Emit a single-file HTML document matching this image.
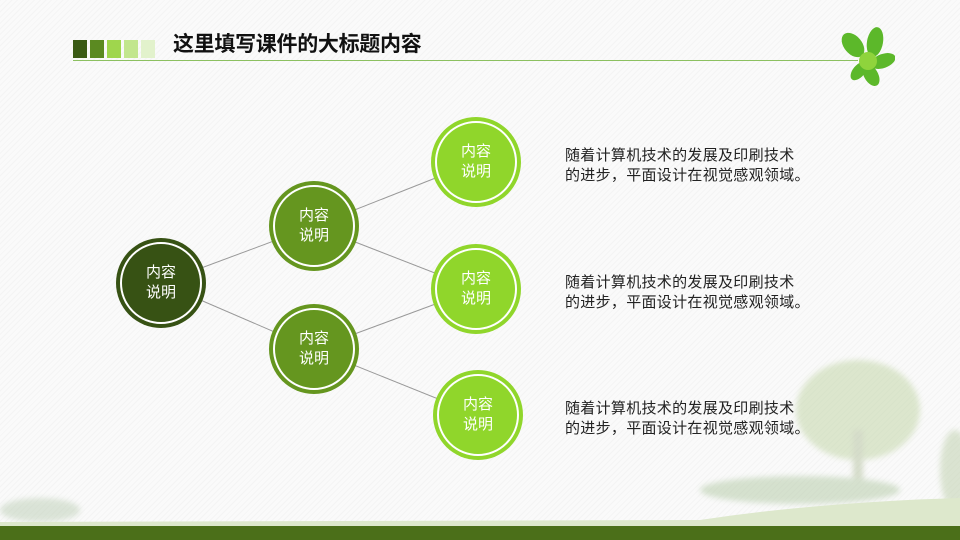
<!DOCTYPE html>
<html><head><meta charset="utf-8"><style>
body{margin:0}
#p{position:relative;width:960px;height:540px;overflow:hidden;background:#fafafa;
background-image:repeating-linear-gradient(135deg,rgba(0,0,0,0.025) 0 1px,transparent 1px 4px);
font-family:"Liberation Sans","Noto Sans CJK SC",sans-serif}
.sq{position:absolute;top:40px;width:14px;height:18px}
.t{position:absolute;left:173px;top:28px;font-size:21px;font-weight:bold;color:#111;letter-spacing:-0.3px}
.c{position:absolute;border-radius:50%;box-sizing:border-box;color:#fff;font-size:15px;line-height:20px;
display:flex;align-items:center;justify-content:center;text-align:center}
.c::after{content:"";position:absolute;left:4px;top:4px;right:4px;bottom:4px;border:2px solid #fff;border-radius:50%}
.tx{position:absolute;left:565px;font-size:15px;line-height:20px;color:#222;letter-spacing:0.3px}
</style></head><body><div id="p">
<div class="sq" style="left:73px;background:#3a5a14"></div>
<div class="sq" style="left:90px;background:#5b8a21"></div>
<div class="sq" style="left:107px;background:#9fd64d"></div>
<div class="sq" style="left:124px;background:#c2e68e"></div>
<div class="sq" style="left:141px;background:#e2f2cc"></div>
<div class="t">这里填写课件的大标题内容</div>
<div style="position:absolute;left:73px;top:60px;width:785px;height:1px;background:#8cc060"></div>
<svg style="position:absolute;left:835px;top:25px" width="60" height="65">
<g fill="#5cb82a"><ellipse cx="18" cy="20" rx="9" ry="14" transform="rotate(-40 18 20)"/><ellipse cx="40" cy="17" rx="8" ry="15" transform="rotate(10 40 17)"/><ellipse cx="48" cy="36" rx="7" ry="13" transform="rotate(70 48 36)"/><ellipse cx="36" cy="50" rx="7" ry="12" transform="rotate(150 36 50)"/><ellipse cx="24" cy="46" rx="6" ry="11" transform="rotate(-140 24 46)"/></g><circle cx="33" cy="36" r="9" fill="#8fd43c"/></svg>
<svg style="position:absolute;left:0;top:0" width="960" height="540">
<g stroke="#999" stroke-width="1"><line x1="161" y1="283" x2="314" y2="226"/><line x1="161" y1="283" x2="314" y2="349"/><line x1="314" y1="226" x2="476" y2="162"/><line x1="314" y1="226" x2="476" y2="289"/><line x1="314" y1="349" x2="476" y2="289"/><line x1="314" y1="349" x2="478" y2="415"/></g>
<defs><filter id="b"><feGaussianBlur stdDeviation="3"/></filter></defs>
<g filter="url(#b)" opacity="0.45"><ellipse cx="858" cy="410" rx="62" ry="50" fill="#b8cf98"/><rect x="853" y="430" width="10" height="50" fill="#a9b890"/>
<ellipse cx="800" cy="490" rx="100" ry="14" fill="#a9c39a"/><ellipse cx="40" cy="510" rx="40" ry="12" fill="#b5c9ad"/><ellipse cx="955" cy="470" rx="15" ry="40" fill="#b5c9a0"/></g>
<path d="M0 522 L700 520 Q820 502 960 498 L960 526 L0 526Z" fill="#dde8cc"/>
<rect x="0" y="526" width="960" height="14" fill="#4b6f19"/>
</svg>
<div class="c" style="left:116px;top:238px;width:90px;height:90px;background:#375214">内容<br>说明</div>
<div class="c" style="left:269px;top:181px;width:90px;height:90px;background:#65961f">内容<br>说明</div>
<div class="c" style="left:269px;top:304px;width:90px;height:90px;background:#65961f">内容<br>说明</div>
<div class="c" style="left:431px;top:117px;width:90px;height:90px;background:#90d62b">内容<br>说明</div>
<div class="c" style="left:431px;top:244px;width:90px;height:90px;background:#90d62b">内容<br>说明</div>
<div class="c" style="left:433px;top:370px;width:90px;height:90px;background:#90d62b">内容<br>说明</div>
<div class="tx" style="top:146px">随着计算机技术的发展及印刷技术<br>的进步，平面设计在视觉感观领域。</div>
<div class="tx" style="top:273px">随着计算机技术的发展及印刷技术<br>的进步，平面设计在视觉感观领域。</div>
<div class="tx" style="top:399px">随着计算机技术的发展及印刷技术<br>的进步，平面设计在视觉感观领域。</div>
</div></body></html>
